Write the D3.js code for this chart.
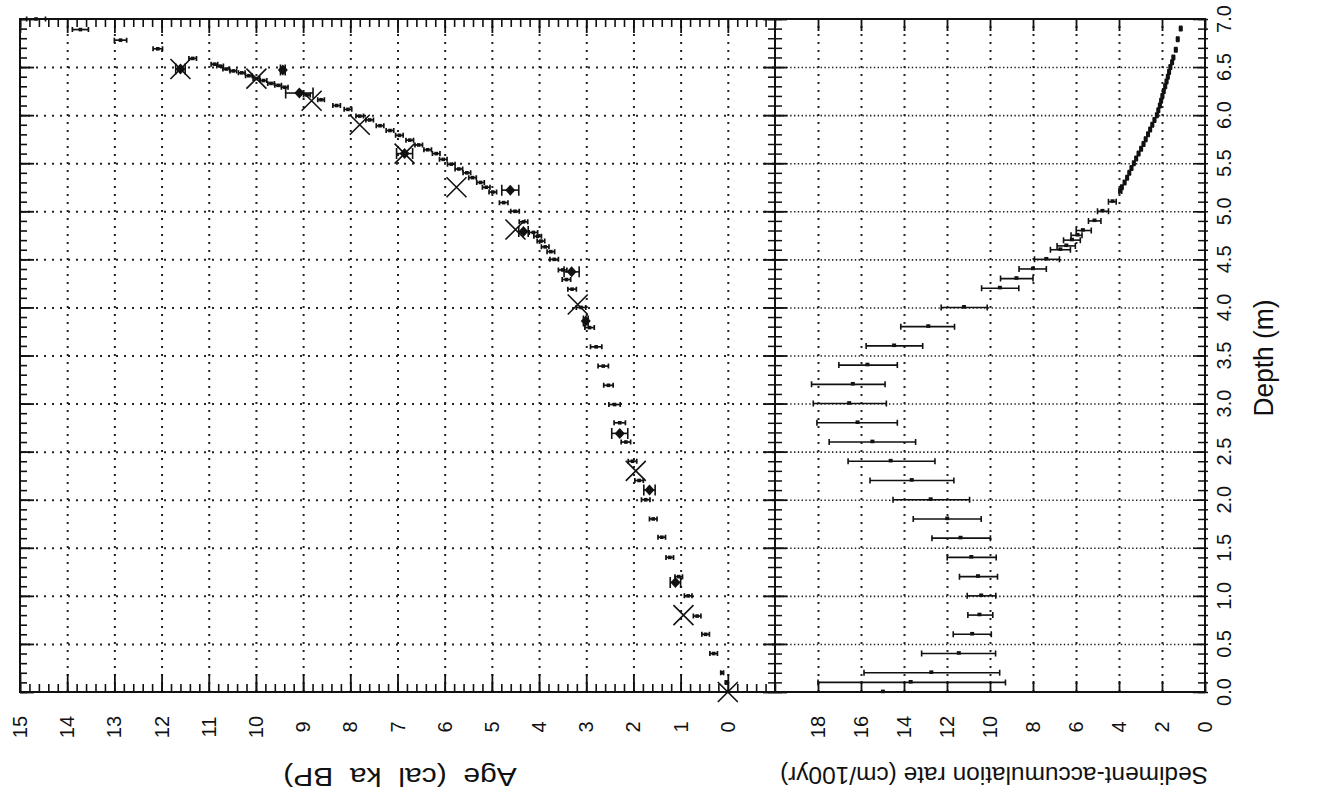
<!DOCTYPE html>
<html>
<head>
<meta charset="utf-8">
<script src="https://cdn.jsdelivr.net/npm/d3@7"></script>
<style>
  body { margin: 0; background: #fff; }
  svg { display: block; }
  text { font-family: "Liberation Sans", Arial, sans-serif; fill: #111; }
</style>
</head>
<body>
<svg id="chart" width="1336" height="798"></svg>
<script>
// ---- Modelled age-depth points (depth m, age cal ka BP, ± error) ----
const modelDepth = [7.00, 6.89, 6.78, 6.69, 6.59, 6.53, 6.51, 6.48, 6.46, 6.44, 6.41, 6.38, 6.36, 6.33, 6.31, 6.29,
  6.21, 6.16, 6.10, 6.06, 5.99, 5.95, 5.89, 5.84, 5.79, 5.74, 5.69, 5.64, 5.60, 5.54, 5.49, 5.44, 5.40, 5.35, 5.30,
  5.25, 5.20, 5.09, 5.00, 4.89, 4.78, 4.74, 4.69, 4.63, 4.58, 4.50, 4.39, 4.29, 4.19, 4.00, 3.79, 3.59, 3.39, 3.19,
  2.99, 2.80, 2.60, 2.40, 2.20, 2.00, 1.80, 1.61, 1.40, 1.20, 1.00, 0.79, 0.60, 0.40, 0.20, 0.10];
const modelAge = [14.66, 13.72, 12.87, 12.08, 11.34, 10.88, 10.76, 10.63, 10.48, 10.30, 10.15, 9.99, 9.84, 9.68, 9.53, 9.39,
  8.92, 8.62, 8.29, 8.05, 7.80, 7.59, 7.37, 7.16, 6.96, 6.74, 6.55, 6.36, 6.18, 6.03, 5.86, 5.70, 5.53, 5.41, 5.24,
  5.12, 4.98, 4.75, 4.51, 4.33, 4.12, 4.03, 3.96, 3.87, 3.75, 3.68, 3.50, 3.42, 3.30, 3.11, 2.93, 2.79, 2.64, 2.53,
  2.40, 2.29, 2.16, 2.02, 1.88, 1.74, 1.58, 1.40, 1.23, 1.04, 0.84, 0.65, 0.47, 0.30, 0.12, 0.03];
const modelErr = [0.20, 0.17, 0.13, 0.10, 0.08, 0.07, 0.07, 0.07, 0.07, 0.07, 0.07, 0.07, 0.07, 0.07, 0.07, 0.07,
  0.07, 0.07, 0.08, 0.08, 0.08, 0.08, 0.08, 0.08, 0.08, 0.08, 0.08, 0.08, 0.08, 0.08, 0.08, 0.08, 0.08, 0.08, 0.08,
  0.08, 0.08, 0.09, 0.09, 0.09, 0.09, 0.08, 0.08, 0.08, 0.08, 0.09, 0.09, 0.09, 0.09, 0.10, 0.10, 0.12, 0.11, 0.10,
  0.12, 0.12, 0.10, 0.09, 0.09, 0.09, 0.08, 0.08, 0.08, 0.08, 0.08, 0.08, 0.08, 0.08, 0.03, 0.02];

// ---- Calibrated radiocarbon dates (diamonds) ----
const datedDepth = [6.48, 6.47, 6.23, 5.60, 5.22, 4.79, 4.37, 3.86, 2.69, 2.10, 1.14];
const datedAge   = [11.60, 9.43, 9.08, 6.85, 4.61, 4.33, 3.31, 3.01, 2.29, 1.66, 1.11];
const datedErr   = [0.10, 0.05, 0.29, 0.17, 0.18, 0.10, 0.16, 0.05, 0.17, 0.12, 0.11];

// ---- Independent age markers (crosses) ----
const crossDepth = [6.48, 6.38, 6.15, 5.90, 5.60, 5.25, 4.81, 4.03, 2.30, 0.80, 0.00];
const crossAge   = [11.60, 9.99, 8.82, 7.80, 6.85, 5.75, 4.50, 3.18, 1.95, 0.94, 0.00];

// ---- Sediment-accumulation rate (cm/100yr) with ranges ----
const rateDepth = [0.00, 0.10, 0.20, 0.40, 0.60, 0.80, 1.00, 1.20, 1.40, 1.60, 1.80, 2.00, 2.20, 2.40, 2.60, 2.80,
  3.00, 3.20, 3.40, 3.60, 3.80, 4.00, 4.20, 4.30, 4.40, 4.50, 4.60, 4.64, 4.70, 4.75, 4.80, 4.90, 5.00, 5.10, 5.21,
  5.25, 5.30, 5.35, 5.40, 5.45, 5.50, 5.55, 5.60, 5.65, 5.70, 5.75, 5.80, 5.85, 5.90, 5.95, 6.00, 6.05, 6.10, 6.15,
  6.20, 6.25, 6.30, 6.35, 6.40, 6.45, 6.50, 6.55, 6.60, 6.68, 6.79, 6.90];
const rateValue = [14.98, 13.69, 12.73, 11.45, 10.83, 10.49, 10.41, 10.56, 10.87, 11.37, 11.99, 12.76, 13.64, 14.62, 15.47, 16.16,
  16.55, 16.38, 15.70, 14.46, 12.87, 11.21, 9.54, 8.77, 8.00, 7.38, 6.73, 6.45, 6.19, 5.93, 5.68, 5.14, 4.77, 4.30, 3.94,
  3.87, 3.74, 3.62, 3.52, 3.42, 3.31, 3.20, 3.09, 2.97, 2.86, 2.76, 2.65, 2.55, 2.45, 2.35, 2.24, 2.17, 2.10, 2.04,
  1.98, 1.92, 1.85, 1.79, 1.73, 1.67, 1.61, 1.53, 1.47, 1.36, 1.27, 1.13];
const rateLow = [14.98, 9.28, 9.55, 9.74, 9.94, 9.87, 9.73, 9.65, 9.71, 9.98, 10.41, 10.95, 11.68, 12.56, 13.46, 14.31,
  14.82, 14.88, 14.31, 13.13, 11.65, 10.13, 8.66, 8.00, 7.38, 6.77, 6.26, 6.03, 5.80, 5.72, 5.29, 4.84, 4.49, 4.13, 3.88,
  3.83, 3.70, 3.58, 3.48, 3.38, 3.27, 3.16, 3.05, 2.93, 2.82, 2.72, 2.61, 2.51, 2.41, 2.31, 2.20, 2.13, 2.06, 2.00,
  1.94, 1.88, 1.81, 1.75, 1.69, 1.63, 1.57, 1.49, 1.43, 1.32, 1.23, 1.09];
const rateHigh = [14.98, 18.00, 15.86, 13.18, 11.71, 11.03, 11.06, 11.42, 11.99, 12.70, 13.57, 14.51, 15.58, 16.60, 17.48, 18.05,
  18.22, 18.30, 17.03, 15.76, 14.15, 12.27, 10.39, 9.51, 8.65, 7.93, 7.19, 6.88, 6.58, 6.23, 5.99, 5.42, 5.00, 4.49, 4.00,
  3.91, 3.78, 3.66, 3.56, 3.46, 3.35, 3.24, 3.13, 3.01, 2.90, 2.80, 2.69, 2.59, 2.49, 2.39, 2.28, 2.21, 2.14, 2.08,
  2.02, 1.96, 1.89, 1.83, 1.77, 1.71, 1.65, 1.57, 1.51, 1.40, 1.31, 1.17];

// ---- Axis tick labels ----
const ageTicks = [15, 14, 13, 12, 11, 10, 9, 8, 7, 6, 5, 4, 3, 2, 1, 0];
const rateTicks = [18, 16, 14, 12, 10, 8, 6, 4, 2, 0];
const depthTicks = [0.0, 0.5, 1.0, 1.5, 2.0, 2.5, 3.0, 3.5, 4.0, 4.5, 5.0, 5.5, 6.0, 6.5, 7.0];

// ---- Layout ----
const plotTop = 19, plotBottom = 692, leftX = 20, midX = 775, rightX = 1205;
const svg = d3.select('#chart');
const ageScale = d3.scaleLinear().domain([15, -1]).range([leftX, midX]);
const rateScale = d3.scaleLinear().domain([20, 0]).range([midX, rightX]);
const depthScale = d3.scaleLinear().domain([0, 7]).range([plotBottom, plotTop]);

const majorDepth = d3.range(0, 7.01, 0.5);
const minorDepth = d3.range(0, 70.01, 1).map(d => d / 10);
const minorAge = d3.range(-5, 76, 1).map(d => d / 5);

function styleAxis(g, width) {
  g.select('.domain').remove();
  g.selectAll('.tick line').attr('stroke', '#111').attr('stroke-width', width);
  g.selectAll('.tick text').remove();
}

// ---- Dotted grid ----
const gridDot = (g, dash, w) => {
  g.select('.domain').remove();
  g.selectAll('.tick text').remove();
  g.selectAll('.tick line').attr('stroke', '#222').attr('stroke-width', w).attr('stroke-dasharray', dash);
};
svg.append('g').attr('transform', `translate(0,${plotBottom})`)
  .call(d3.axisBottom(ageScale).tickValues(d3.range(14, -0.5, -1)).tickSize(-(plotBottom - plotTop)).tickFormat(''))
  .call(g => gridDot(g, '2,6', 2));
svg.append('g').attr('transform', `translate(${leftX},0)`)
  .call(d3.axisLeft(depthScale).tickValues(d3.range(0.5, 6.6, 0.5)).tickSize(-(midX - leftX)).tickFormat(''))
  .call(g => gridDot(g, '2,6', 2));
svg.append('g').attr('transform', `translate(0,${plotBottom})`)
  .call(d3.axisBottom(rateScale).tickValues(d3.range(18, 1, -2)).tickSize(-(plotBottom - plotTop)).tickFormat(''))
  .call(g => gridDot(g, '2,6', 2));
svg.append('g').attr('transform', `translate(${midX},0)`)
  .call(d3.axisLeft(depthScale).tickValues(d3.range(0.5, 6.6, 0.5)).tickSize(-(rightX - midX)).tickFormat(''))
  .call(g => gridDot(g, '1.4,2.4', 1.6));

// ---- Frames ----
svg.append('rect').attr('x', leftX).attr('y', plotTop).attr('width', midX - leftX).attr('height', plotBottom - plotTop)
  .attr('fill', 'none').attr('stroke', '#111').attr('stroke-width', 2);
svg.append('rect').attr('x', midX).attr('y', plotTop).attr('width', rightX - midX).attr('height', plotBottom - plotTop)
  .attr('fill', 'none').attr('stroke', '#111').attr('stroke-width', 2);

// ---- Tick marks ----
// age panel, bottom and top edges
svg.append('g').attr('transform', `translate(0,${plotBottom})`)
  .call(d3.axisBottom(ageScale).tickValues(minorAge.filter(v => v <= 15)).tickSize(-8)).call(g => styleAxis(g, 1.6));
svg.append('g').attr('transform', `translate(0,${plotBottom})`)
  .call(d3.axisBottom(ageScale).tickValues(ageTicks).tickSize(-18)).call(g => styleAxis(g, 1.8));
svg.append('g').attr('transform', `translate(0,${plotTop})`)
  .call(d3.axisTop(ageScale).tickValues(minorAge.filter(v => v <= 15)).tickSize(-8)).call(g => styleAxis(g, 1.6));
svg.append('g').attr('transform', `translate(0,${plotTop})`)
  .call(d3.axisTop(ageScale).tickValues(ageTicks).tickSize(-14)).call(g => styleAxis(g, 1.8));
// depth ticks, left edge of age panel
svg.append('g').attr('transform', `translate(${leftX},0)`)
  .call(d3.axisLeft(depthScale).tickValues(minorDepth).tickSize(-7)).call(g => styleAxis(g, 1.6));
svg.append('g').attr('transform', `translate(${leftX},0)`)
  .call(d3.axisLeft(depthScale).tickValues(majorDepth).tickSize(-14)).call(g => styleAxis(g, 1.8));
// shared edge: ticks crossing the line
[-1, 1].forEach(side => {
  svg.append('g').attr('transform', `translate(${midX},0)`)
    .call((side < 0 ? d3.axisLeft(depthScale) : d3.axisRight(depthScale)).tickValues(minorDepth).tickSize(7))
    .call(g => styleAxis(g, 1.5));
  svg.append('g').attr('transform', `translate(${midX},0)`)
    .call((side < 0 ? d3.axisLeft(depthScale) : d3.axisRight(depthScale)).tickValues(majorDepth).tickSize(12))
    .call(g => styleAxis(g, 1.8));
});
// right edge of rate panel
svg.append('g').attr('transform', `translate(${rightX},0)`)
  .call(d3.axisRight(depthScale).tickValues(minorDepth).tickSize(3)).call(g => styleAxis(g, 1.5));
svg.append('g').attr('transform', `translate(${rightX},0)`)
  .call(d3.axisLeft(depthScale).tickValues(minorDepth).tickSize(7)).call(g => styleAxis(g, 1.5));
svg.append('g').attr('transform', `translate(${rightX},0)`)
  .call(d3.axisLeft(depthScale).tickValues(majorDepth).tickSize(12)).call(g => styleAxis(g, 1.6));
// rate panel, bottom and top edges
svg.append('g').attr('transform', `translate(0,${plotBottom})`)
  .call(d3.axisBottom(rateScale).tickValues(rateTicks).tickSize(-11)).call(g => styleAxis(g, 1.8));
svg.append('g').attr('transform', `translate(0,${plotTop})`)
  .call(d3.axisTop(rateScale).tickValues(rateTicks).tickSize(-12)).call(g => styleAxis(g, 1.8));

// ---- Tick labels (rotated to read upward) ----
const labels = svg.append('g').attr('font-size', 20);
labels.selectAll('.age-lab').data(ageTicks).join('text')
  .attr('transform', d => `translate(${ageScale(d) + 7},727) rotate(-90)`)
  .attr('text-anchor', 'middle').text(d => d);
labels.selectAll('.rate-lab').data(rateTicks).join('text')
  .attr('transform', d => `translate(${rateScale(d) + 7},727) rotate(-90)`)
  .attr('text-anchor', 'middle').text(d => d);
labels.selectAll('.depth-lab').data(depthTicks).join('text')
  .attr('transform', d => `translate(${1231},${depthScale(d)}) rotate(-90)`)
  .attr('text-anchor', 'middle').text(d => d.toFixed(1));

// ---- Axis titles ----
svg.append('text').attr('transform', 'translate(400,768) rotate(180) scale(1.2,1)')
  .attr('text-anchor', 'middle').attr('font-size', 25).attr('word-spacing', 7)
  .text('Age (cal ka BP)');
svg.append('text').attr('transform', 'translate(994,767) rotate(180)')
  .attr('text-anchor', 'middle').attr('font-size', 23)
  .attr('textLength', 428).attr('lengthAdjust', 'spacingAndGlyphs')
  .text('Sediment-accumulation rate (cm/100yr)');
svg.append('text').attr('transform', 'translate(1273,358) rotate(-90)')
  .attr('text-anchor', 'middle').attr('font-size', 27)
  .attr('textLength', 117).attr('lengthAdjust', 'spacingAndGlyphs')
  .text('Depth (m)');

// ---- Error bar helper ----
function errorBars(g, xs, ys, lo, hi, cap, width) {
  const idx = d3.range(xs.length);
  g.selectAll(null).data(idx).join('line')
    .attr('x1', i => lo[i]).attr('x2', i => hi[i]).attr('y1', i => ys[i]).attr('y2', i => ys[i])
    .attr('stroke', '#111').attr('stroke-width', width);
  g.selectAll(null).data(idx.filter(i => hi[i] - lo[i] > 1)).join('path')
    .attr('d', i => `M${lo[i]},${ys[i] - cap}V${ys[i] + cap}M${hi[i]},${ys[i] - cap}V${ys[i] + cap}`)
    .attr('stroke', '#111').attr('stroke-width', width).attr('fill', 'none');
}

// ---- Age-depth panel ----
const ageG = svg.append('g');
{
  const ys = modelDepth.map(d => depthScale(d));
  const xs = modelAge.map(a => ageScale(a));
  errorBars(ageG, xs, ys,
    modelAge.map((a, i) => ageScale(a + modelErr[i])),
    modelAge.map((a, i) => ageScale(a - modelErr[i])), 2.5, 1.7);
  ageG.selectAll(null).data(d3.range(xs.length)).join('rect')
    .attr('x', i => xs[i] - 1.8).attr('y', i => ys[i] - 1.8).attr('width', 3.6).attr('height', 3.6)
    .attr('fill', '#111');
}
{
  const ys = datedDepth.map(d => depthScale(d));
  const xs = datedAge.map(a => ageScale(a));
  errorBars(ageG, xs, ys,
    datedAge.map((a, i) => ageScale(a + datedErr[i])),
    datedAge.map((a, i) => ageScale(a - datedErr[i])), 5.5, 1.6);
  ageG.selectAll(null).data(d3.range(xs.length)).join('path')
    .attr('d', i => `M${xs[i]},${ys[i] - 5.5}L${xs[i] + 5},${ys[i]}L${xs[i]},${ys[i] + 5.5}L${xs[i] - 5},${ys[i]}Z`)
    .attr('fill', '#111');
}
ageG.selectAll(null).data(d3.range(crossAge.length)).join('path')
  .attr('d', i => {
    const x = ageScale(crossAge[i]), y = depthScale(crossDepth[i]), s = 10;
    return `M${x - s},${y - s}L${x + s},${y + s}M${x + s},${y - s}L${x - s},${y + s}`;
  })
  .attr('stroke', '#111').attr('stroke-width', 1.6).attr('fill', 'none');

// ---- Accumulation-rate panel ----
const rateG = svg.append('g');
{
  const ys = rateDepth.map(d => depthScale(d));
  const xs = rateValue.map(r => rateScale(r));
  errorBars(rateG, xs, ys, rateHigh.map(r => rateScale(r)), rateLow.map(r => rateScale(r)), 3, 1.6);
  rateG.selectAll(null).data(d3.range(xs.length)).join('rect')
    .attr('x', i => xs[i] - 2).attr('y', i => ys[i] - 2.4)
    .attr('width', 4).attr('height', i => rateDepth[i] >= 5.2 ? 4.8 : 3.6)
    .attr('fill', '#111');
}
</script>
</body>
</html>
